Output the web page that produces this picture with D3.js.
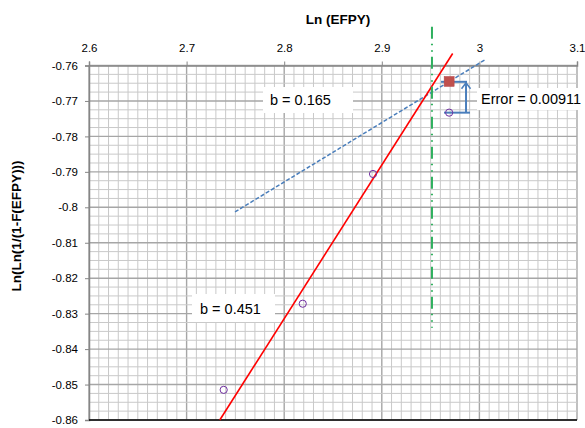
<!DOCTYPE html>
<html>
<head>
  <meta charset="utf-8">
  <script src="https://d3js.org/d3.v7.min.js"></script>
  <style>
    body { margin: 0; background: #fff; }
    text { font-family: 'Liberation Sans', Arial, sans-serif; fill: #000; }
  </style>
</head>
<body>
  <div id="chart"></div>
  <script>
    // observed points (open circles)
    const pointsX = [2.738, 2.819, 2.891, 2.969];
    const pointsY = [-0.8515, -0.8272, -0.7906, -0.7733];
    // predicted point (filled square)
    const predX = [2.969];
    const predY = [-0.7645];
    // fitted line b = 0.451 (red)
    const redX = [2.734, 2.9726];
    const redY = [-0.86, -0.7566];
    // fitted line b = 0.165 (blue dashed)
    const blueX = [2.7496, 3.0057];
    const blueY = [-0.8013, -0.7584];
    // vertical marker (green dash-dot)
    const greenX = [2.9514, 2.9514];
    const greenY = [-0.7491, -0.834];
    // error bracket
    const errTopX = [2.9607, 2.9873];
    const errBotX = [2.9637, 2.9904];
    const errArrowX = 2.9863;
    const errY = [-0.7646, -0.7733];

    const xTicks = [2.6, 2.7, 2.8, 2.9, 3.0, 3.1];
    const yTicks = [-0.76, -0.77, -0.78, -0.79, -0.8, -0.81, -0.82, -0.83, -0.84, -0.85, -0.86];

    const width = 585, height = 428;
    const svg = d3.select('#chart').append('svg')
      .attr('width', width)
      .attr('height', height);

    const x = d3.scaleLinear().domain([2.6, 3.1]).range([89, 577]);
    const y = d3.scaleLinear().domain([-0.76, -0.86]).range([65.5, 420]);

    // plain hyphen minus like the original
    const fmt = d => d3.format('~g')(d).replace('\u2212', '-');

    // grid, major every 0.1 / 0.01
    const grid = svg.append('g');
    grid.selectAll('.vx')
      .data(d3.range(0, 51).map(i => 2.6 + i * 0.01))
      .enter().append('line')
      .attr('x1', d => x(d)).attr('x2', d => x(d))
      .attr('y1', y(-0.76)).attr('y2', y(-0.86))
      .attr('stroke', (d, i) => i % 10 === 0 ? '#a6a6a6' : '#c9c9c9')
      .attr('stroke-width', (d, i) => i % 10 === 0 ? 1.4 : 1);
    grid.selectAll('.hy')
      .data(d3.range(0, 41).map(i => -0.76 - i * 0.0025))
      .enter().append('line')
      .attr('x1', x(2.6)).attr('x2', x(3.1))
      .attr('y1', d => y(d)).attr('y2', d => y(d))
      .attr('stroke', (d, i) => i % 4 === 0 ? '#a6a6a6' : '#c9c9c9')
      .attr('stroke-width', (d, i) => i % 4 === 0 ? 1.4 : 1);

    // top axis
    const xAxis = d3.axisTop(x).tickValues(xTicks).tickSize(4).tickFormat(fmt);
    const gx = svg.append('g').attr('transform', `translate(0,${y(-0.76)})`).call(xAxis);
    gx.select('.domain').attr('stroke', '#868686').attr('stroke-width', 1.5);
    gx.selectAll('.tick line').attr('stroke', '#868686');
    gx.selectAll('.tick text').attr('font-size', 11.5).attr('y', -8).attr('dy', '-0.45em')
      .style('font-family', "'Liberation Sans', Arial, sans-serif");

    // left axis
    const yAxis = d3.axisLeft(y).tickValues(yTicks).tickSize(4).tickFormat(fmt);
    const gy = svg.append('g').attr('transform', `translate(${x(2.6)},0)`).call(yAxis);
    gy.select('.domain').attr('stroke', '#868686').attr('stroke-width', 1.5);
    gy.selectAll('.tick line').attr('stroke', '#868686');
    gy.selectAll('.tick text').attr('font-size', 11.5).attr('x', -11)
      .style('font-family', "'Liberation Sans', Arial, sans-serif");

    // bottom line
    svg.append('line')
      .attr('x1', x(2.6)).attr('x2', x(3.1))
      .attr('y1', y(-0.86)).attr('y2', y(-0.86))
      .attr('stroke', '#000').attr('stroke-width', 1.5);

    // axis titles
    svg.append('text')
      .attr('x', 338).attr('y', 24)
      .attr('text-anchor', 'middle')
      .attr('font-size', 13.5).attr('font-weight', 'bold')
      .text('Ln (EFPY)');
    svg.append('text')
      .attr('transform', 'translate(21,226) rotate(-90)')
      .attr('text-anchor', 'middle')
      .attr('font-size', 13.5).attr('font-weight', 'bold')
      .text('Ln(Ln(1/(1-F(EFPY)))');

    const line = d3.line().x(d => x(d[0])).y(d => y(d[1]));

    // blue dashed fit
    svg.append('path')
      .attr('d', line(d3.zip(blueX, blueY)))
      .attr('stroke', '#4a7ebb').attr('stroke-width', 1.5)
      .attr('stroke-dasharray', '4,2').attr('fill', 'none');

    // red fit
    svg.append('path')
      .attr('d', line(d3.zip(redX, redY)))
      .attr('stroke', '#ff0000').attr('stroke-width', 1.6).attr('fill', 'none');

    // green marker
    svg.append('path')
      .attr('d', line(d3.zip(greenX, greenY)))
      .attr('stroke', '#2fb05e').attr('stroke-width', 2)
      .attr('stroke-dasharray', '12,5,1.5,5,1.5,5').attr('fill', 'none');

    // error bracket
    const eb = svg.append('g').attr('stroke', '#4a7ebb').attr('stroke-width', 2).attr('fill', 'none');
    eb.append('path').attr('d', line([[errTopX[0], errY[0]], [errTopX[1], errY[0]]]));
    eb.append('path').attr('d', line([[errBotX[0], errY[1]], [errBotX[1], errY[1]]]));
    eb.append('path').attr('d', line([[errArrowX, errY[1]], [errArrowX, errY[0]]]));
    const ax = x(errArrowX), ay = y(errY[0]) + 1;
    eb.append('path').attr('d', `M${ax - 4.5},${ay + 6}L${ax},${ay}L${ax + 4.5},${ay + 6}`)
      .attr('stroke-width', 1.5);

    // predicted square
    svg.selectAll('.pred')
      .data(d3.zip(predX, predY))
      .enter().append('rect')
      .attr('x', d => x(d[0]) - 5).attr('y', d => y(d[1]) - 5)
      .attr('width', 10).attr('height', 10)
      .attr('fill', '#c0504d').attr('stroke', '#b8474a').attr('stroke-width', 0.5);

    // observed circles
    svg.selectAll('.pt')
      .data(d3.zip(pointsX, pointsY))
      .enter().append('circle')
      .attr('cx', d => x(d[0])).attr('cy', d => y(d[1]))
      .attr('r', 3.6)
      .attr('fill', 'none').attr('stroke', '#7030a0').attr('stroke-width', 1);

    // labels
    const labels = [
      { text: 'b = 0.165', box: [263, 87, 90, 26], tx: 270, ty: 105 },
      { text: 'b = 0.451', box: [192, 294, 83, 28], tx: 200, ty: 314 },
      { text: 'Error = 0.00911', box: [477, 88, 108, 22], tx: 481, ty: 104 }
    ];
    labels.forEach(l => {
      svg.append('rect')
        .attr('x', l.box[0]).attr('y', l.box[1])
        .attr('width', l.box[2]).attr('height', l.box[3])
        .attr('fill', '#fff');
      svg.append('text')
        .attr('x', l.tx).attr('y', l.ty)
        .attr('font-size', 14.5)
        .text(l.text);
    });
  </script>
</body>
</html>
